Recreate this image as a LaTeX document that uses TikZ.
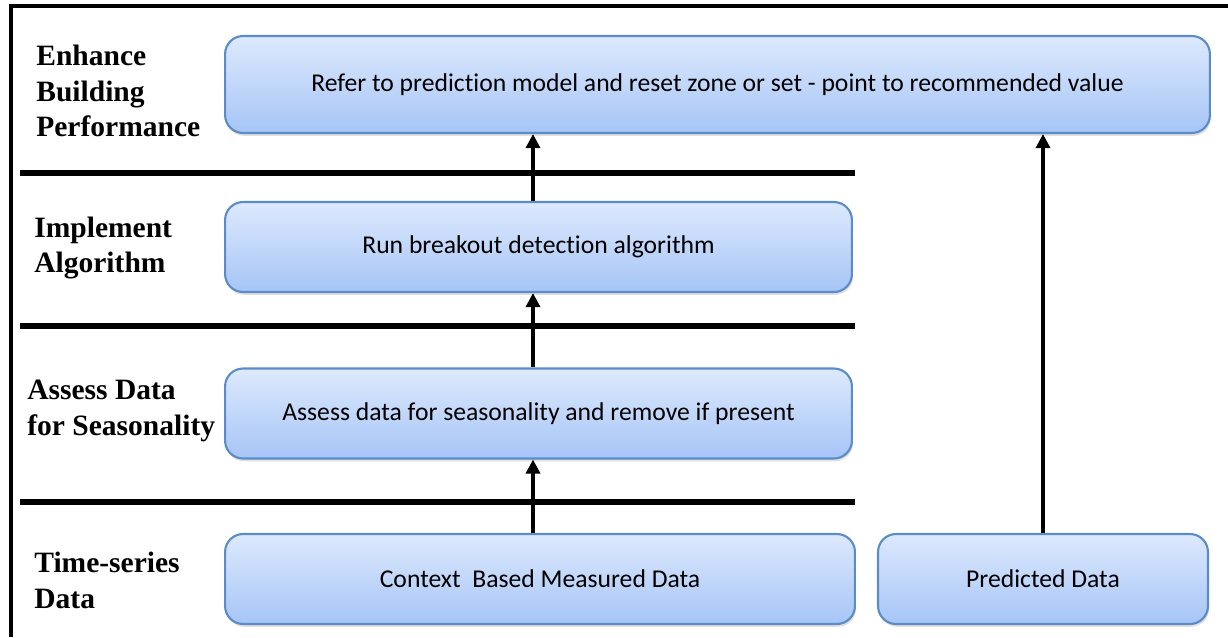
\documentclass[tikz,border=0pt]{standalone}
\usepackage{fontspec}
\setmainfont{Liberation Serif}
\newfontfamily\boxfont[Ligatures={NoCommon}]{Carlito}
\usetikzlibrary{arrows.meta,shadows}
\definecolor{boxtop}{HTML}{DDE9FD}
\definecolor{boxbot}{HTML}{A6C5F6}
\definecolor{boxline}{HTML}{5B8CC8}
\begin{document}
\begin{tikzpicture}
[x=0.02cm, y=-0.02cm,
 stage/.style={draw=boxline, line width=1.2pt, rounded corners=0.36cm,
               top color=boxtop, bottom color=boxbot,
               drop shadow={shadow xshift=0.6pt, shadow yshift=-1.6pt, opacity=0.25},
               minimum height=1.8cm, font=\boxfont\fontsize{14.6}{17}\selectfont},
 lbl/.style={anchor=west, align=left, inner sep=0pt,
             font=\fontsize{16.8}{20.4}\selectfont\bfseries},
 sep/.style={line width=3pt},
 arr/.style={line width=1.9pt, -{Triangle[length=8pt,width=8pt]}}]
  \useasboundingbox (0,0) rectangle (1228,637);
  % frame
  \draw[line width=2.3pt] (11,637) -- (11,6) -- (1228,6);
  % layer separators
  \draw[sep] (20,173) -- (855,173);
  \draw[sep] (20,326) -- (855,326);
  \draw[sep] (20,502) -- (855,502);
  % layer titles
  \node[lbl] (t1) at (36,91) {Enhance\\Building\\Performance};
  \node[lbl] (t2) at (34,248) {Implement\\Algorithm};
  \node[lbl] (t3) at (27,411) {Assess Data\\for Seasonality};
  \node[lbl] (t4) at (34,580) {Time-series\\Data};
  % boxes
  \node[stage, minimum width=19.7cm, minimum height=1.94cm] (top) at (717.5,84.5)
     {Refer to prediction model and reset zone or set - point to recommended value};
  \node[stage, minimum width=12.54cm] (algo) at (538.5,247) {Run breakout detection algorithm};
  \node[stage, minimum width=12.54cm] (seas) at (538.5,413.5) {Assess data for seasonality and remove if present};
  \node[stage, minimum width=12.6cm] (ctx) at (540,579) {Context\ \ Based Measured Data};
  \node[stage, minimum width=6.6cm] (pred) at (1043,579) {Predicted Data};
  % connectors
  \coordinate (spine) at (533,0);
  \draw[arr] (ctx.north -| spine) -- (seas.south -| spine);
  \draw[arr] (seas.north -| spine) -- (algo.south -| spine);
  \draw[arr] (algo.north -| spine) -- (top.south -| spine);
  \draw[arr] (pred.north) -- (pred.north |- top.south);
\end{tikzpicture}
\end{document}
